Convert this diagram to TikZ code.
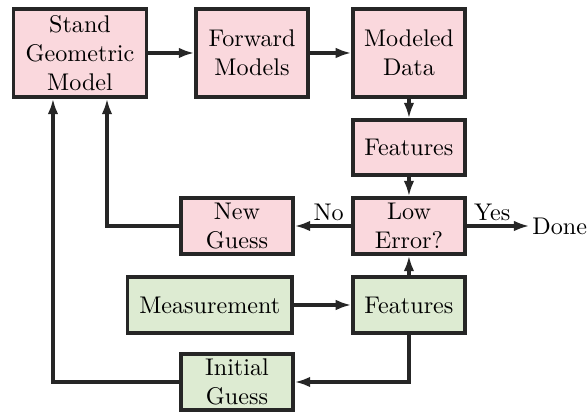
\documentclass[tikz,border=0pt]{standalone}
\usepackage{amsmath}
\usetikzlibrary{arrows.meta}
\definecolor{simpink}{RGB}{250,216,221}
\definecolor{measgreen}{RGB}{221,235,210}

\begin{document}
\begin{tikzpicture}[every node/.style={font=\normalsize},
  block/.style={draw=black!85,line width=1.3pt,align=center,inner sep=1pt,
    minimum width=1.632cm,minimum height=0.816cm},
  sim/.style={block,fill=simpink},
  meas/.style={block,fill=measgreen},
  flow/.style={draw=black!85,line width=1.3pt,-{Latex[length=6.5pt,width=4.4pt]}}]
\useasboundingbox (0,0) rectangle (8.553,-6.047);
% simulation chain
\node[sim,minimum width=1.938cm,minimum height=1.282cm] (sgm) at (1.166,-0.772) {Stand\\Geometric\\Model};
\node[sim,minimum height=1.282cm] (fwd) at (3.672,-0.772) {Forward\\Models};
\node[sim,minimum height=1.282cm] (mod) at (5.959,-0.772) {Modeled\\Data};
\node[sim,minimum height=0.801cm] (featm) at (5.959,-2.149) {Features};
\node[sim] (low) at (5.959,-3.293) {Low\\Error?};
\node[sim] (new) at (3.453,-3.293) {New\\Guess};
\node[anchor=west,inner sep=0pt] (done) at (7.751,-3.293) {Done};
% measurement chain
\node[meas,minimum width=2.397cm] (msr) at (3.056,-4.444) {Measurement};
\node[meas] (featd) at (5.959,-4.444) {Features};
\node[meas] (init) at (3.453,-5.566) {Initial\\Guess};
\draw[flow](sgm)--(fwd); \draw[flow](fwd)--(mod);
\draw[flow](mod)--(featm); \draw[flow](featm)--(low);
\draw[flow](low)--node[pos=0,anchor=south east,inner sep=1.5pt,xshift=-1pt]{No}(new);
\draw[flow](low)--node[pos=0,anchor=south west,inner sep=1.5pt,xshift=1pt]{Yes}([xshift=-1pt]done.west);
\draw[flow](new.west)-|(1.559,-0.772|-sgm.south);
\draw[flow](msr)--(featd); \draw[flow](featd)--(low);
\draw[flow](featd.south)|-(init.east);
\draw[flow](init.west)-|(0.772,-0.772|-sgm.south);
\end{tikzpicture}
\end{document}
